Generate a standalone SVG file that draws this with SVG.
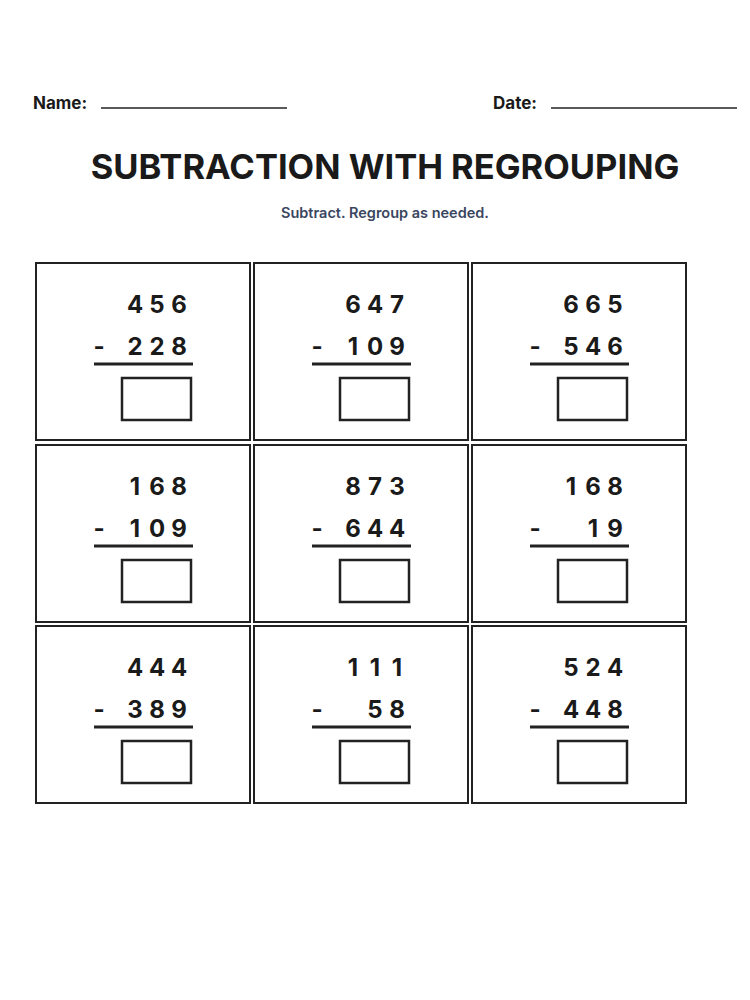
<svg xmlns="http://www.w3.org/2000/svg" width="750" height="1000" viewBox="0 0 750 1000">
<style>
.lbl{font-family:Inter,"Liberation Sans",sans-serif;font-weight:bold;font-size:17px;fill:#1a1a1a}
.title{font-family:Inter,"Liberation Sans",sans-serif;font-weight:bold;font-size:34.5px;fill:#1a1a1a}
.sub{font-family:Inter,"Liberation Sans",sans-serif;font-weight:600;font-size:14.5px;fill:#3a4660}
.d{font-family:Inter,"Liberation Sans",sans-serif;font-weight:bold;font-size:24px;fill:#1a1a1a;text-anchor:middle}
.cell{fill:#fff;stroke:#222;stroke-width:2}
.ans{fill:#fff;stroke:#222;stroke-width:2.5}
.rule{stroke:#222;stroke-width:3}
.ul{stroke:#222;stroke-width:1.5}
</style>
<rect width="750" height="1000" fill="#fff"/>
<text class="lbl" x="33" y="109">Name:</text>
<line class="ul" x1="101" y1="108" x2="287" y2="108"/>
<text class="lbl" x="493" y="109">Date:</text>
<line class="ul" x1="551" y1="108" x2="737" y2="108"/>
<text class="title" x="385" y="179" text-anchor="middle">SUBTRACTION WITH REGROUPING</text>
<text class="sub" x="385" y="218" text-anchor="middle">Subtract. Regroup as needed.</text>
<defs>
<g id="frame">
<rect class="cell" x="0" y="0" width="214" height="177"/>
<text class="d" x="63" y="92">-</text>
<line class="rule" x1="58" y1="101" x2="157" y2="101"/>
<rect class="ans" x="86" y="115" width="69" height="42"/>
</g>
</defs>
<g id="p1" transform="translate(33,263)"><use href="#frame" x="3"/><text class="d" y="50"><tspan x="102">4</tspan><tspan x="124">5</tspan><tspan x="146">6</tspan></text><text class="d" y="92"><tspan x="102">2</tspan><tspan x="124">2</tspan><tspan x="146">8</tspan></text></g>
<g id="p2" transform="translate(251,263)"><use href="#frame" x="3"/><text class="d" y="50"><tspan x="102">6</tspan><tspan x="124">4</tspan><tspan x="146">7</tspan></text><text class="d" y="92"><tspan x="102">1</tspan><tspan x="124">0</tspan><tspan x="146">9</tspan></text></g>
<g id="p3" transform="translate(469,263)"><use href="#frame" x="3"/><text class="d" y="50"><tspan x="102">6</tspan><tspan x="124">6</tspan><tspan x="146">5</tspan></text><text class="d" y="92"><tspan x="102">5</tspan><tspan x="124">4</tspan><tspan x="146">6</tspan></text></g>
<g id="p4" transform="translate(33,445)"><use href="#frame" x="3"/><text class="d" y="50"><tspan x="102">1</tspan><tspan x="124">6</tspan><tspan x="146">8</tspan></text><text class="d" y="92"><tspan x="102">1</tspan><tspan x="124">0</tspan><tspan x="146">9</tspan></text></g>
<g id="p5" transform="translate(251,445)"><use href="#frame" x="3"/><text class="d" y="50"><tspan x="102">8</tspan><tspan x="124">7</tspan><tspan x="146">3</tspan></text><text class="d" y="92"><tspan x="102">6</tspan><tspan x="124">4</tspan><tspan x="146">4</tspan></text></g>
<g id="p6" transform="translate(469,445)"><use href="#frame" x="3"/><text class="d" y="50"><tspan x="102">1</tspan><tspan x="124">6</tspan><tspan x="146">8</tspan></text><text class="d" y="92"><tspan x="124">1</tspan><tspan x="146">9</tspan></text></g>
<g id="p7" transform="translate(33,626)"><use href="#frame" x="3"/><text class="d" y="50"><tspan x="102">4</tspan><tspan x="124">4</tspan><tspan x="146">4</tspan></text><text class="d" y="92"><tspan x="102">3</tspan><tspan x="124">8</tspan><tspan x="146">9</tspan></text></g>
<g id="p8" transform="translate(251,626)"><use href="#frame" x="3"/><text class="d" y="50"><tspan x="102">1</tspan><tspan x="124">1</tspan><tspan x="146">1</tspan></text><text class="d" y="92"><tspan x="124">5</tspan><tspan x="146">8</tspan></text></g>
<g id="p9" transform="translate(469,626)"><use href="#frame" x="3"/><text class="d" y="50"><tspan x="102">5</tspan><tspan x="124">2</tspan><tspan x="146">4</tspan></text><text class="d" y="92"><tspan x="102">4</tspan><tspan x="124">4</tspan><tspan x="146">8</tspan></text></g>
</svg>
